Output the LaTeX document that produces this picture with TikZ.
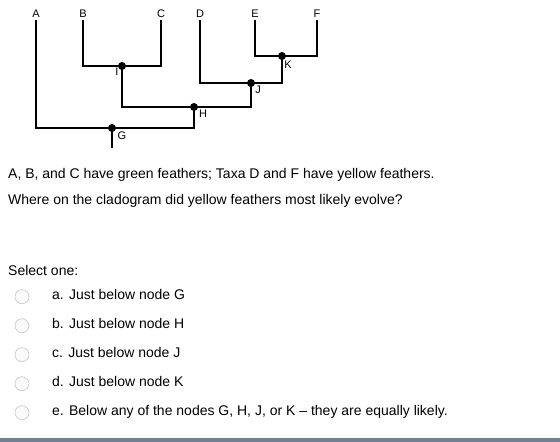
\documentclass[tikz,border=0pt]{standalone}
\usepackage{fontspec}
\setmainfont{Liberation Sans}
\begin{document}
\begin{tikzpicture}[x=1pt,y=-1pt,
  br/.style={line width=1.4pt, line cap=rect},
  dot/.style={circle, fill=black, inner sep=0pt, minimum size=8pt},
  tip/.style={font=\fontsize{11}{12}\selectfont, inner sep=0pt},
  lab/.style={font=\fontsize{11}{12}\selectfont, inner sep=0pt},
  txt/.style={font=\fontsize{14}{16}\selectfont, inner sep=0pt, anchor=base west},
  radio/.style={circle, draw=gray!40, fill=gray!4, line width=0.7pt, minimum size=14pt, inner sep=0pt}]
\useasboundingbox (0,0) rectangle (560,442);
% taxa
\node[tip] (tA) at (36,14) {A};
\node[tip] (tB) at (83,14) {B};
\node[tip] (tC) at (161,14) {C};
\node[tip] (tD) at (200,14) {D};
\node[tip] (tE) at (255,14) {E};
\node[tip] (tF) at (317,14) {F};
\coordinate (A) at (36,21);
\coordinate (B) at (83,21);
\coordinate (C) at (161,21);
\coordinate (D) at (200,21);
\coordinate (E) at (255,21);
\coordinate (F) at (317,21);
\coordinate (root) at (112,147);
% internal nodes
\node[dot] (K) at (282,56) {};
\node[dot] (J) at (251,83) {};
\node[dot] (I) at (122,66) {};
\node[dot] (H) at (194,107) {};
\node[dot] (G) at (112,128) {};
% branches
\draw[br] (E) |- (K.center) -| (F);
\draw[br] (D) |- (J.center) -| (K.center);
\draw[br] (B) |- (I.center) -| (C);
\draw[br] (I.center) |- (H.center) -| (J.center);
\draw[br] (A) |- (G.center) -| (H.center);
\draw[br] (G.center) -- (root);
% labels
\node[lab] (lI) at (117,72) {I};
\node[lab] (lH) at (203,114) {H};
\node[lab] (lG) at (122,136) {G};
\node[lab] (lJ) at (258,90) {J};
\node[lab] (lK) at (288,65) {K};
% text
\node[txt] (q1) at (8,178.3) {A, B, and C have green feathers; Taxa D and F have yellow feathers.};
\node[txt] (q2) at (8,204.8) {Where on the cladogram did yellow feathers most likely evolve?};
\node[txt] (sel) at (8,275) {Select one:};
\foreach \y/\t [count=\i] in {299.5/{a. Just below node G},328.5/{b. Just below node H},357.5/{c. Just below node J},386.5/{d. Just below node K},415.5/{e. Below any of the nodes G, H, J, or K -- they are equally likely.}} {
  \node[radio] (r\i) at (22,\y-2.8) {};
  \node[txt] (o\i) at (52,\y) {\t};
}
\fill[fill={rgb,255:red,111;green,128;blue,148}] (0,438) rectangle (560,442);
\end{tikzpicture}
\end{document}
